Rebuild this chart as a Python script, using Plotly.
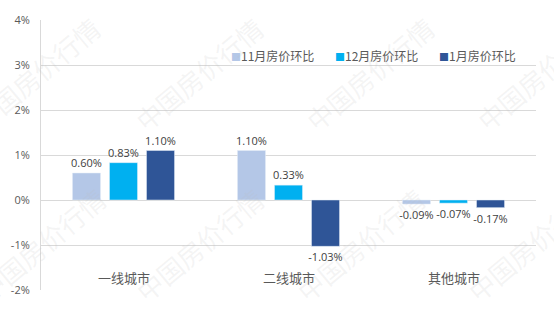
import plotly.graph_objects as go

# City tiers and month-on-month house price changes (%)
categories = ["一线城市", "二线城市", "其他城市"]
series_names = ["11月房价环比", "12月房价环比", "1月房价环比"]
nov_values = [0.60, 1.10, -0.09]
dec_values = [0.83, 0.33, -0.07]
jan_values = [1.10, -1.03, -0.17]
y_ticks = [-2, -1, 0, 1, 2, 3, 4]

colors = ["#B4C7E7", "#00B0F0", "#2F5597"]
series_values = [nov_values, dec_values, jan_values]

num_font = "Open Sans, Noto Sans CJK SC, sans-serif"
cjk_font = "Noto Sans CJK SC, sans-serif"

fig = go.Figure()
for name, vals, col in zip(series_names, series_values, colors):
    fig.add_trace(go.Bar(
        x=categories, y=vals, name=name, marker_color=col,
        text=[f"{v:.2f}%" for v in vals], textposition="outside",
        constraintext="none",
        textfont=dict(size=11, color="#404040", family=num_font),
        cliponaxis=False, showlegend=False,
    ))

# compact legend row inside the top of the plot
legend_x = [0.38, 0.59, 0.80]
for name, col, lx in zip(series_names, colors, legend_x):
    fig.add_annotation(
        x=lx, y=0.87, xref="paper", yref="paper",
        xanchor="left", yanchor="middle", showarrow=False,
        text=f"<span style='color:{col};font-size:10px'>■</span>{name}",
        font=dict(size=12, color="#595959", family=cjk_font))

# category labels sit inside the plot, below the bars
for c in categories:
    fig.add_annotation(x=c, y=-1.72, xref="x", yref="y", text=c,
                       showarrow=False,
                       font=dict(size=13, color="#595959", family=cjk_font))

# faint diagonal watermark
wm_positions = [(-0.01, 0.80), (0.32, 0.80), (0.665, 0.80), (1.01, 0.80),
                (0.0, 0.17), (0.32, 0.17), (0.645, 0.17), (0.99, 0.17)]
for px, py in wm_positions:
    fig.add_annotation(x=px, y=py, xref="paper", yref="paper",
                       xanchor="center", yanchor="middle",
                       text="中国房价行情", showarrow=False, textangle=-40,
                       font=dict(size=26, color="rgba(190,190,190,0.16)",
                                 family=cjk_font))

fig.update_layout(
    width=554, height=322,
    margin=dict(l=41, r=18, t=20, b=32),
    paper_bgcolor="white", plot_bgcolor="white",
    barmode="group", bargap=0.327, bargroupgap=0.243,
    showlegend=False,
)
fig.update_xaxes(showticklabels=False, showgrid=False, ticks="",
                 showline=False, zeroline=False)
fig.update_yaxes(range=[-2, 4], tickvals=y_ticks,
                 ticktext=[f"{t}%" for t in y_ticks],
                 showgrid=True, gridcolor="#D9D9D9", gridwidth=1,
                 zeroline=True, zerolinecolor="#D9D9D9", zerolinewidth=1,
                 showline=True, linecolor="#D9D9D9", linewidth=1,
                 ticks="", ticklabelstandoff=8,
                 tickfont=dict(size=11, color="#595959", family=num_font))

fig.write_html("out.html")
